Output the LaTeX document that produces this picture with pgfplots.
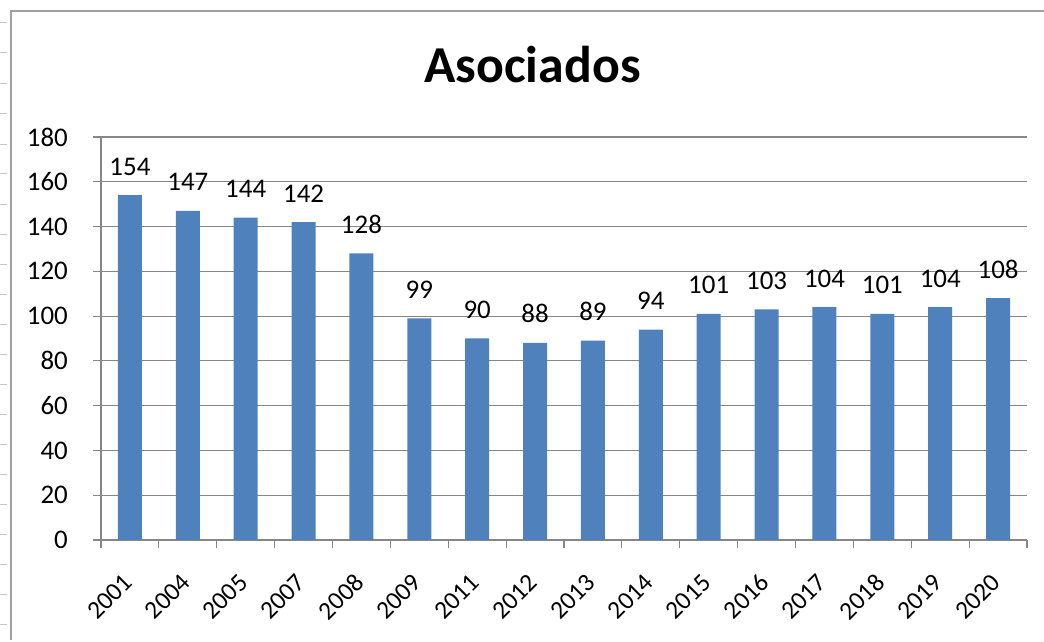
\documentclass[border=0pt]{standalone}
\usepackage{fontspec}
\setmainfont{Carlito}
\usepackage{pgfplots}
\pgfplotsset{compat=1.18}
\definecolor{barblue}{HTML}{4F81BD}
\definecolor{gridgray}{HTML}{868686}
\definecolor{framegray}{HTML}{A0A0A0}
\begin{document}
\begin{tikzpicture}[x=1bp,y=1bp]
\useasboundingbox (0,0) rectangle (1044,642);
\draw[framegray, line width=1.2bp] (11,2) -- (11,631) -- (1044,631);
\foreach \yy in {22,52,83,113,144,173,204,234,264,294,324,354,384,414,444,474,504,534,564,594,624}
  \draw[framegray!60, line width=0.8bp] (0,642-\yy) -- (7,642-\yy);
\node[anchor=base, font=\fontsize{52}{52}\selectfont\bfseries, inner sep=0] at (532.5,559) {Asociados};
\begin{axis}[
  at={(101bp,102bp)}, anchor=south west,
  scale only axis, width=926bp, height=403bp,
  xmin=-0.5, xmax=15.5, ymin=0, ymax=180,
  axis x line*=bottom, axis y line*=left,
  axis line style={gridgray, line width=1.2bp, -},
  ytick={0,20,...,180},
  ymajorgrids, grid style={gridgray, line width=1.2bp},
  xtick={-0.5,0.5,...,15.5},
  x tick label as interval,
  xticklabels={2001,2004,2005,2007,2008,2009,2011,2012,2013,2014,2015,2016,2017,2018,2019,2020},
  tick style={gridgray, line width=1.2bp},
  tick align=outside, major tick length=8bp,
  /pgf/number format/assume math mode=true,
  yticklabel style={font=\fontsize{27}{27}\selectfont, anchor=east, inner sep=0, xshift=-25bp},
  xticklabel style={font=\fontsize{25.5}{25.5}\selectfont, rotate=45, anchor=east, inner sep=0, yshift=-20bp, xshift=-23bp},
  ybar, bar width=24bp,
  nodes near coords,
  every node near coord/.append style={font=\fontsize{27}{27}\selectfont, anchor=base, inner sep=0, yshift=20bp},
]
\addplot[fill=barblue, draw=none] coordinates {
(0,154) (1,147) (2,144) (3,142) (4,128) (5,99) (6,90) (7,88)
(8,89) (9,94) (10,101) (11,103) (12,104) (13,101) (14,104) (15,108)};
\end{axis}
\end{tikzpicture}
\end{document}
